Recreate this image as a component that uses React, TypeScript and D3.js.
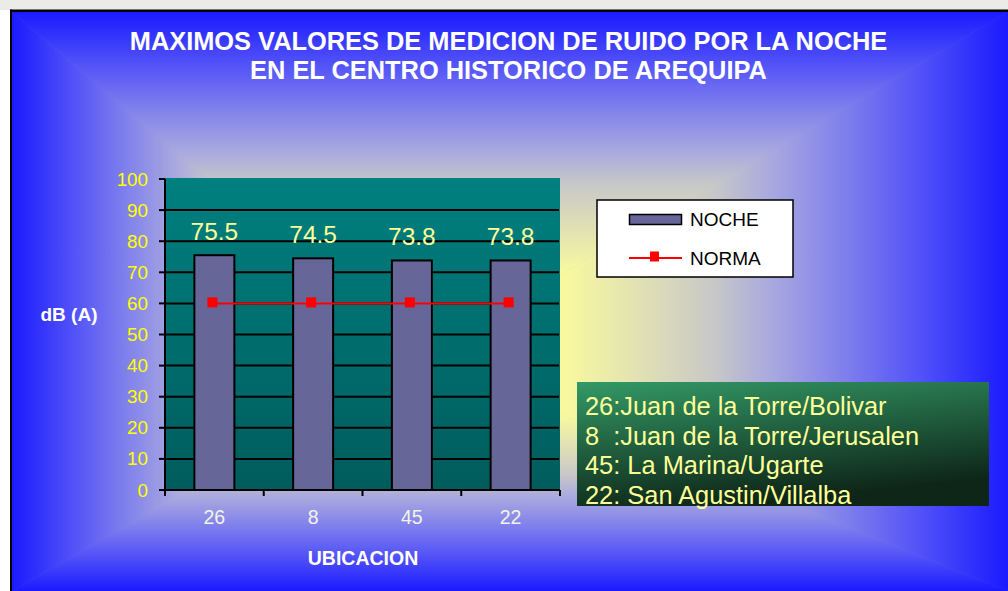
import React from "react";
import * as d3 from "d3";

const titleLines = [
  "MAXIMOS VALORES DE MEDICION DE RUIDO POR LA NOCHE",
  "EN EL CENTRO HISTORICO DE AREQUIPA",
];
const categories = ["26", "8", "45", "22"];
const nocheValues = [75.5, 74.5, 73.8, 73.8];
const normaValues = [60, 60, 60, 60];
const yTicks = [0, 10, 20, 30, 40, 50, 60, 70, 80, 90, 100];
const gridTicks = [10, 20, 30, 40, 50, 60, 70, 80, 90];
const legendLabels = ["NOCHE", "NORMA"];
const infoLines = [
  "26:Juan de la Torre/Bolivar",
  "8  :Juan de la Torre/Jerusalen",
  "45: La Marina/Ugarte",
  "22: San Agustin/Villalba",
];
const yTitle = "dB (A)";
const xTitle = "UBICACION";

const FONT = "'Liberation Sans', Arial, Helvetica, sans-serif";

const W = 1008;
const H = 591;
// frame
const FL = 12, FT = 12, FR = 1008, FB = 591;
const CX = 419, CY = 358;

const bgStops: [number, string][] = [
  [0, "#ffffa0"],
  [0.25, "#f8f8a0"],
  [0.4, "#dcdcb8"],
  [0.5, "#c8c8c8"],
  [0.6, "#a8a8e0"],
  [0.72, "#8080ec"],
  [0.85, "#5252f8"],
  [1, "#1a1aff"],
];

export default function App() {
  const plotL = 165, plotR = 560, plotT = 179, plotB = 490;
  const x = d3.scaleBand<string>().domain(categories).range([plotL, plotR]);
  const y = d3.scaleLinear().domain([0, 100]).range([plotB, plotT]);
  const bw = x.bandwidth() * 0.405;
  const cx = (c: string) => (x(c) as number) + x.bandwidth() / 2;

  const line = d3
    .line<number>()
    .x((_, i) => cx(categories[i]) - 2)
    .y((d) => y(d));

  const tri = {
    top: `M${FL},${FT}L${FR},${FT}L${CX},${CY}Z`,
    bottom: `M${FL},${FB}L${FR},${FB}L${CX},${CY}Z`,
    left: `M${FL},${FT}L${FL},${FB}L${CX},${CY}Z`,
    right: `M${FR},${FT}L${FR},${FB}L${CX},${CY}Z`,
  };
  const grads = [
    { id: "gTop", x1: CX, y1: CY, x2: CX, y2: FT, d: tri.top },
    { id: "gBottom", x1: CX, y1: CY, x2: CX, y2: FB, d: tri.bottom },
    { id: "gLeft", x1: CX, y1: CY, x2: FL, y2: CY, d: tri.left },
    { id: "gRight", x1: CX, y1: CY, x2: FR, y2: CY, d: tri.right },
  ];

  const boundaries = [...categories.map((c) => x(c) as number), plotR];

  return (
    <div style={{ position: "absolute", left: 0, top: 0 }}>
      <svg width={W} height={H} style={{ display: "block" }}>
        <defs>
          {grads.map((g) => (
            <linearGradient
              key={g.id}
              id={g.id}
              gradientUnits="userSpaceOnUse"
              x1={g.x1}
              y1={g.y1}
              x2={g.x2}
              y2={g.y2}
            >
              {bgStops.map(([o, c]) => (
                <stop key={o} offset={o} stopColor={c} />
              ))}
            </linearGradient>
          ))}
          <linearGradient id="plotGrad" x1="0" y1="0" x2="0" y2="1">
            <stop offset="0" stopColor="#008080" />
            <stop offset="1" stopColor="#005c5c" />
          </linearGradient>
          <linearGradient id="infoGrad" x1="0" y1="0" x2="0.35" y2="1">
            <stop offset="0" stopColor="#339966" />
            <stop offset="1" stopColor="#0e2618" />
          </linearGradient>
        </defs>

        {/* outside page */}
        <rect x={0} y={0} width={W} height={H} fill="#ffffff" />
        <rect x={0} y={0} width={W} height={10} fill="#ebece8" />

        {/* background */}
        <rect x={FL} y={FT} width={FR - FL} height={FB - FT} fill="#9090e0" />
        {grads.map((g) => (
          <path key={g.id} d={g.d} fill={`url(#${g.id})`} stroke={`url(#${g.id})`} strokeWidth={0.6} />
        ))}
        <rect x={10} y={9.5} width={W - 10} height={2.5} fill="#000" />
        <rect x={10} y={9.5} width={2} height={H - 9.5} fill="#000" />

        {/* title */}
        {titleLines.map((t, i) => (
          <text
            key={i}
            x={508.5}
            y={50 + i * 29}
            textAnchor="middle"
            fontFamily={FONT}
            fontWeight="bold"
            fontSize={25.4}
            fill="#ffffff"
          >
            {t}
          </text>
        ))}

        {/* plot area */}
        <rect x={plotL} y={plotT - 1} width={plotR - plotL} height={plotB - plotT + 1} fill="url(#plotGrad)" />
        {gridTicks.map((t) => (
          <line key={t} x1={plotL} x2={plotR - 1} y1={y(t)} y2={y(t)} stroke="#000" strokeWidth={2} />
        ))}

        {/* bars */}
        {categories.map((c, i) => (
          <rect
            key={c}
            x={cx(c) - bw / 2}
            y={y(nocheValues[i])}
            width={bw}
            height={plotB - y(nocheValues[i])}
            fill="#666699"
            stroke="#000"
            strokeWidth={2}
          />
        ))}

        {/* axes */}
        <line x1={plotL} x2={plotL} y1={plotT} y2={plotB + 6} stroke="#000" strokeWidth={2} />
        <line x1={plotL - 6} x2={plotR} y1={plotB} y2={plotB} stroke="#000" strokeWidth={2} />
        {yTicks.map((t) => (
          <g key={t}>
            <line x1={plotL - 6} x2={plotL} y1={y(t)} y2={y(t)} stroke="#000" strokeWidth={2} />
            <text
              x={148}
              y={y(t)}
              dy="0.35em"
              textAnchor="end"
              fontFamily={FONT}
              fontSize={18.8}
              fill="#ffff00"
            >
              {t}
            </text>
          </g>
        ))}
        {boundaries.map((b, i) => (
          <line key={i} x1={b} x2={b} y1={plotB} y2={plotB + 6} stroke="#000" strokeWidth={2} />
        ))}
        {categories.map((c) => (
          <text
            key={c}
            x={cx(c)}
            y={524}
            textAnchor="middle"
            fontFamily={FONT}
            fontSize={19.5}
            fill="#f4f4e6"
          >
            {c}
          </text>
        ))}

        {/* NORMA line */}
        <path d={line(normaValues) || ""} fill="none" stroke="#ff0000" strokeWidth={2} />
        {normaValues.map((v, i) => (
          <rect
            key={i}
            x={cx(categories[i]) - 2 - 5}
            y={y(v) - 6}
            width={10}
            height={10}
            fill="#ff0000"
          />
        ))}

        {/* value labels */}
        {categories.map((c, i) => (
          <text
            key={c}
            x={cx(c)}
            y={y(nocheValues[i]) - 15}
            textAnchor="middle"
            fontFamily={FONT}
            fontSize={24.5}
            fill="#ffff99"
          >
            {nocheValues[i].toFixed(1)}
          </text>
        ))}

        {/* axis titles */}
        <text x={69} y={321} textAnchor="middle" fontFamily={FONT} fontWeight="bold" fontSize={19} fill="#ffffff">
          {yTitle}
        </text>
        <text x={363} y={565} textAnchor="middle" fontFamily={FONT} fontWeight="bold" fontSize={19.5} fill="#ffffff">
          {xTitle}
        </text>

        {/* legend */}
        <rect x={597} y={200} width={196} height={77} fill="#ffffff" stroke="#000" strokeWidth={1.5} />
        <rect x={629.5} y={214.5} width={52} height={10} fill="#666699" stroke="#000" strokeWidth={1.5} />
        <line x1={629} x2={682} y1={258} y2={258} stroke="#ff0000" strokeWidth={2} />
        <rect x={650} y={251.5} width={9} height={10} fill="#ff0000" />
        {legendLabels.map((l, i) => (
          <text key={l} x={690} y={226 + i * 39} fontFamily={FONT} fontSize={19} fill="#000">
            {l}
          </text>
        ))}

        {/* info box */}
        <rect x={577} y={382} width={412} height={124} fill="url(#infoGrad)" />
        {infoLines.map((l, i) => (
          <text
            key={i}
            x={585}
            y={415 + i * 29.5}
            fontFamily={FONT}
            fontSize={25.4}
            fill="#ffff99"
            style={{ whiteSpace: "pre" }}
            xmlSpace="preserve"
          >
            {l}
          </text>
        ))}
      </svg>
    </div>
  );
}
